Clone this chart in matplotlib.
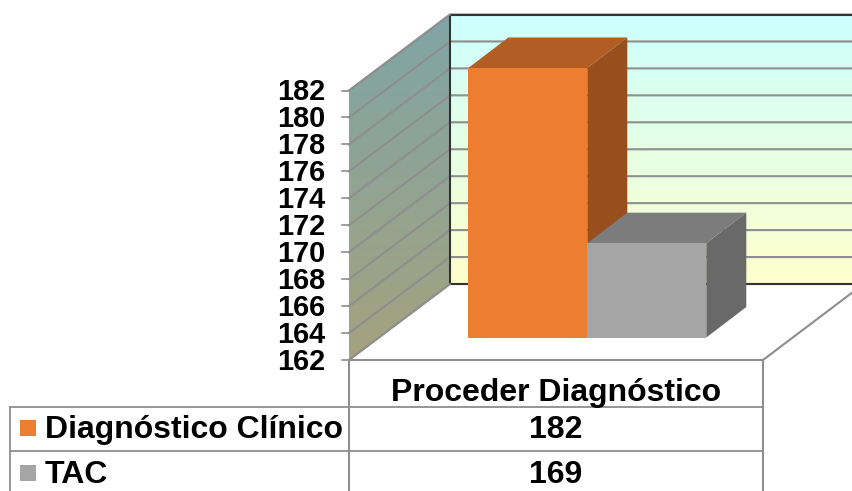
import numpy as np
import matplotlib
matplotlib.use("Agg")
import matplotlib.pyplot as plt
from matplotlib.colors import LinearSegmentedColormap
from matplotlib.patches import Polygon, Rectangle

plt.rcParams["font.family"] = ["Liberation Sans", "DejaVu Sans"]
plt.rcParams["font.weight"] = "bold"

category = "Proceder Diagnóstico"
series = ["Diagnóstico Clínico", "TAC"]
values = [182, 169]
ticks = [162, 164, 166, 168, 170, 172, 174, 176, 178, 180, 182]
front_colors = ["#ED7D31", "#A5A5A5"]
top_colors = ["#B15D24", "#7C7C7C"]
side_colors = ["#97501D", "#696969"]
line_color = "#8E8E8E"

W, H = 853, 491
fig = plt.figure(figsize=(W / 100, H / 100), dpi=100)
ax = fig.add_axes([0, 0, 1, 1])
ax.set_xlim(0, W)
ax.set_ylim(H, 0)
ax.axis("off")

# geometry of the fake 3d box, in pixels
wall_x, wall_dx = 349, 101
y0, y1 = 360, 90.5
back_dy = -76
unit = (y0 - y1) / (ticks[-1] - ticks[0])


def wall_y(v):
    return y0 - (v - ticks[0]) * unit


# back wall
cmap = LinearSegmentedColormap.from_list("back", ["#CCFFFF", "#FFFFCC"])
ax.imshow(np.linspace(0, 1, 256).reshape(-1, 1), cmap=cmap, aspect="auto",
          extent=(wall_x + wall_dx, W, y0 + back_dy, y1 + back_dy),
          origin="upper", zorder=1)
ax.set_xlim(0, W)
ax.set_ylim(H, 0)

# side wall
side_poly = Polygon([(wall_x, y1), (wall_x + wall_dx, y1 + back_dy),
                     (wall_x + wall_dx, y0 + back_dy), (wall_x, y0)],
                    closed=True, fc="none", ec="none", transform=ax.transData)
ax.add_patch(side_poly)
cmap2 = LinearSegmentedColormap.from_list("side", ["#7FA5A6", "#A5A27E"])
im = ax.imshow(np.linspace(0, 1, 256).reshape(-1, 1), cmap=cmap2, aspect="auto",
               extent=(wall_x, wall_x + wall_dx, y0, y1 + back_dy), origin="upper", zorder=1)
im.set_clip_path(side_poly)
ax.set_xlim(0, W)
ax.set_ylim(H, 0)

# gridlines and tick labels
for t in ticks:
    y = wall_y(t)
    ax.plot([wall_x, wall_x + wall_dx, W], [y, y + back_dy, y + back_dy], color=line_color, lw=1.5, zorder=2)
    ax.plot([wall_x - 7, wall_x], [y, y], color=line_color, lw=1.2, zorder=2)
    ax.text(wall_x - 24, y + 9.7, str(t), ha="right", va="baseline", fontsize=20.8, color="black", zorder=5)

# frame of the back wall
bx = wall_x + wall_dx
ax.plot([W, bx, bx, W], [y1 + back_dy, y1 + back_dy, y0 + back_dy, y0 + back_dy], color="#333333", lw=1.5, zorder=3)
ax.plot([wall_x, bx], [y1, y1 + back_dy], color=line_color, lw=1.2, zorder=3)
ax.plot([wall_x, bx], [y0, y0 + back_dy], color=line_color, lw=1.2, zorder=3)

# floor
ax.plot([wall_x, 763, W], [y0, y0, 292], color=line_color, lw=1.5, zorder=3)

# bars
bar_w = 119
bar_x = 468.3
bar_base = 337.5
dx, dy = 40, -30.5
for i, (val, fc, tc, sc) in enumerate(zip(values, front_colors, top_colors, side_colors)):
    x = bar_x + i * bar_w
    top = bar_base - (val - ticks[0]) * unit
    ax.add_patch(Polygon([(x + bar_w, top), (x + bar_w + dx, top + dy),
                          (x + bar_w + dx, bar_base + dy), (x + bar_w, bar_base)], fc=sc, ec="none", zorder=4 + i * 0.1))
    ax.add_patch(Polygon([(x, top), (x + dx, top + dy), (x + bar_w + dx, top + dy), (x + bar_w, top)],
                         fc=tc, ec="none", zorder=4 + i * 0.1))
    ax.add_patch(Rectangle((x, top), bar_w, bar_base - top, fc=fc, ec="none", zorder=4 + i * 0.1))

# data table
table_right = 763
rows = [407, 450.5]
table_left = 10.5
for y in rows:
    ax.plot([table_left, table_right], [y, y], color=line_color, lw=1.3, zorder=3)
ax.plot([table_left, table_left], [rows[0], H], color=line_color, lw=1.3, zorder=3)
ax.plot([wall_x, wall_x], [y0, H], color=line_color, lw=1.5, zorder=3)
ax.plot([table_right, table_right], [y0, H], color=line_color, lw=1.5, zorder=3)

mid = (wall_x + table_right) / 2
ax.text(mid, 401, category, ha="center", va="baseline", fontsize=23, color="black", zorder=5)
row_baselines = [438, 483]
for name, val, fc, yb in zip(series, values, front_colors, row_baselines):
    ax.add_patch(Rectangle((20, yb - 18), 16, 16, fc=fc, ec="none", zorder=5))
    ax.text(45, yb, name, ha="left", va="baseline", fontsize=23, color="black", zorder=5)
    ax.text(mid, yb, str(val), ha="center", va="baseline", fontsize=23, color="black", zorder=5)

fig.savefig("out.png", dpi=100)
